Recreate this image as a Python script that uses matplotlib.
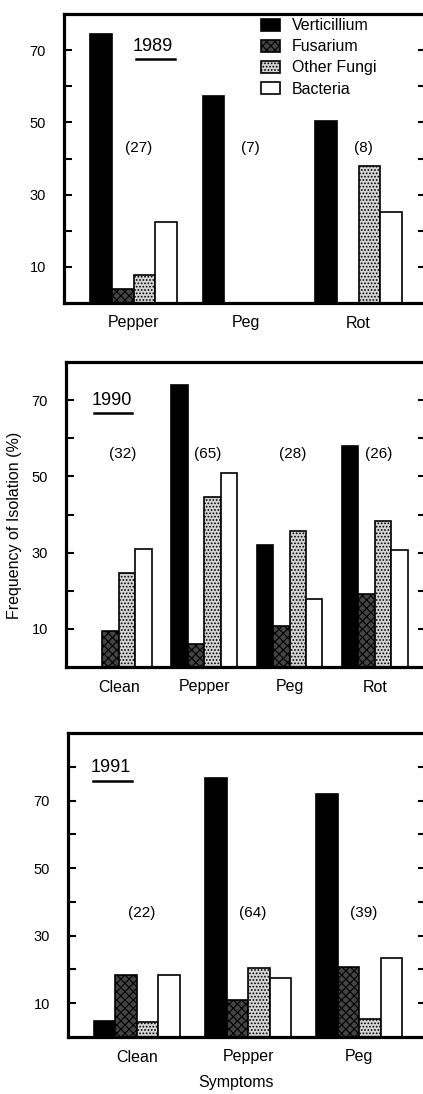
import matplotlib
matplotlib.use("Agg")
import matplotlib.pyplot as plt
import numpy as np

plt.rcParams['font.family'] = ['Liberation Sans', 'DejaVu Sans']
plt.rcParams['hatch.linewidth'] = 0.8

series = ["Verticillium", "Fusarium", "Other Fungi", "Bacteria"]

# 1989
cats_1989 = ["Pepper", "Peg", "Rot"]
vert_1989 = [74.5, 57.2, 50.3]
fus_1989 = [3.9, 0, 0]
other_1989 = [7.8, 0, 37.8]
bact_1989 = [22.5, 0, 25.3]
n_1989 = [27, 7, 8]

# 1990
cats_1990 = ["Clean", "Pepper", "Peg", "Rot"]
vert_1990 = [0, 74, 32, 57.9]
fus_1990 = [9.5, 6, 10.8, 19.2]
other_1990 = [24.7, 44.5, 35.8, 38.4]
bact_1990 = [31, 51, 17.9, 30.8]
n_1990 = [32, 65, 28, 26]

# 1991
cats_1991 = ["Clean", "Pepper", "Peg"]
vert_1991 = [4.7, 76.7, 71.9]
fus_1991 = [18.5, 11.1, 20.8]
other_1991 = [4.4, 20.5, 5.2]
bact_1991 = [18.5, 17.5, 23.4]
n_1991 = [22, 64, 39]

styles = [
    dict(facecolor="black", hatch=None),
    dict(facecolor="#444444", hatch="xxxx"),
    dict(facecolor="#d4d4d4", hatch="....."),
    dict(facecolor="white", hatch=None),
]

W, H = 423, 1094
fig = plt.figure(figsize=(W / 100, H / 100), dpi=100)


def px_axes(left, top, right, bottom):
    return fig.add_axes([left / W, 1 - bottom / H, (right - left) / W, (bottom - top) / H])


def panel(ax, cats, values, counts, ymax, n_y, year, ypos, uline):
    x = np.arange(len(cats))
    w = 0.193
    bars = []
    for k, vals in enumerate(values):
        b = ax.bar(x + (k - 1.5) * w, vals, w, edgecolor="black", linewidth=1.2,
                   facecolor=styles[k]["facecolor"], hatch=styles[k]["hatch"])
        bars.append(b)
    for i, c in enumerate(counts):
        ax.text(i + 0.04, n_y, f"({c})", ha="center", va="center", fontsize=11)
    ax.set_xlim(-0.62, len(cats) - 0.4)
    ax.set_ylim(0, ymax)
    ax.set_xticks(x)
    ax.set_xticklabels(cats, fontsize=11.5)
    ax.tick_params(axis="x", length=0, pad=9)
    ax.set_yticks([10, 30, 50, 70])
    ax.set_yticks(np.arange(20, ymax, 20), minor=True)
    ax.tick_params(axis="y", which="both", direction="in", length=6, width=1.5,
                   left=True, right=True, labelsize=10.5, pad=13)
    for s in ax.spines.values():
        s.set_linewidth(2.3)
    ax.text(ypos[0], ypos[1], year, transform=ax.transAxes, ha="center",
            va="center", fontsize=13)
    ax.plot(uline[0], [uline[1], uline[1]], transform=ax.transAxes,
            color="black", linewidth=1.8, clip_on=False)
    return bars


ax1 = px_axes(64, 14, 426, 303)
bars = panel(ax1, cats_1989, [vert_1989, fus_1989, other_1989, bact_1989], n_1989,
             80, 43, "1989", (0.246, 0.889), ((0.199, 0.307), 0.844))
ax1.legend([b[0] for b in bars], series, loc="upper left",
           bbox_to_anchor=(0.545, 0.985), frameon=False, fontsize=11.5,
           handlelength=1.2, handleheight=0.8, labelspacing=0.38,
           handletextpad=0.7, borderaxespad=0, borderpad=0)

ax2 = px_axes(66, 362, 426, 667)
panel(ax2, cats_1990, [vert_1990, fus_1990, other_1990, bact_1990], n_1990,
      80, 56, "1990", (0.128, 0.875), ((0.078, 0.183), 0.833))

ax3 = px_axes(68, 733, 426, 1037)
panel(ax3, cats_1991, [vert_1991, fus_1991, other_1991, bact_1991], n_1991,
      90, 36.7, "1991", (0.120, 0.885), ((0.070, 0.179), 0.842))

fig.text(15 / W, 1 - 525 / H, "Frequency of Isolation (%)", rotation=90,
         ha="center", va="center", fontsize=11.5)
fig.text(236 / W, 1 - 1083 / H, "Symptoms", ha="center", va="center", fontsize=11.5)

fig.savefig("out.png", dpi=100)
